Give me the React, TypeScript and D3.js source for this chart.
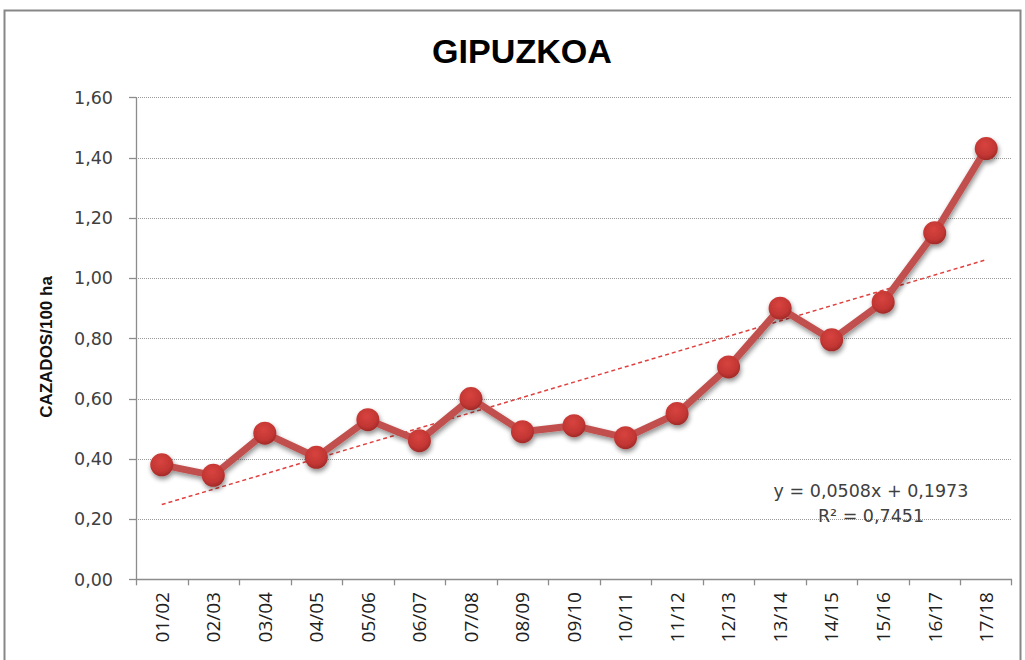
import React from "react";
import * as d3 from "d3";

const categories = ["01/02","02/03","03/04","04/05","05/06","06/07","07/08","08/09","09/10","10/11","11/12","12/13","13/14","14/15","15/16","16/17","17/18"];
const values = [0.38,0.345,0.485,0.405,0.53,0.46,0.60,0.49,0.51,0.47,0.55,0.705,0.90,0.795,0.92,1.15,1.43];
const yTicks = [0,0.2,0.4,0.6,0.8,1.0,1.2,1.4,1.6];
const trendSlope = 0.0508;
const trendIntercept = 0.1973;
const r2 = 0.7451;
const title = "GIPUZKOA";
const yTitle = "CAZADOS/100 ha";

const W = 1025, H = 660;
const M = { left: 136, right: 1012, top: 97.3, bottom: 579.3 };
const fmt = (v: number, d: number) => v.toFixed(d).replace(".", ",");

export default function App() {
  const x = d3.scaleBand<string>().domain(categories).range([M.left, M.right]).padding(0);
  const y = d3.scaleLinear().domain([0, 1.6]).range([M.bottom, M.top]);
  const cx = (c: string) => (x(c) as number) + x.bandwidth() / 2;
  const line = d3.line<number>().x((_, i) => cx(categories[i])).y(v => y(v));
  const trend = categories.map((_, i) => trendSlope * (i + 1) + trendIntercept);
  const trendLine = d3.line<number>().x((_, i) => cx(categories[i])).y(v => y(v));
  const labelFont = "'DejaVu Sans', sans-serif";
  const xFont = "'Open Sans', sans-serif";
  return (
    <svg width={W} height={H} style={{ position: "absolute", left: 0, top: 0, background: "#fff" }}>
      <defs>
        <radialGradient id="mk" cx="45%" cy="35%" r="65%">
          <stop offset="0%" stopColor="#d8433f" />
          <stop offset="70%" stopColor="#c23633" />
          <stop offset="100%" stopColor="#a12a28" />
        </radialGradient>
        <filter id="sh" x="-50%" y="-50%" width="200%" height="200%">
          <feGaussianBlur in="SourceAlpha" stdDeviation="2.5" />
          <feOffset dx="1" dy="3" result="b" />
          <feComponentTransfer><feFuncA type="linear" slope="0.45" /></feComponentTransfer>
          <feMerge><feMergeNode /><feMergeNode in="SourceGraphic" /></feMerge>
        </filter>
      </defs>
      <rect x={4.5} y={10.5} width={1016} height={700} fill="#fff" stroke="#878787" strokeWidth={2} />
      <text x={522} y={63} textAnchor="middle" fontFamily="'Liberation Sans', Arial, sans-serif" fontWeight="bold" fontSize={33} textLength={180} lengthAdjust="spacingAndGlyphs">{title}</text>
      {yTicks.filter(t => t > 0).map(t => (
        <line key={t} x1={M.left} x2={M.right} y1={Math.round(y(t)) + 0.5} y2={Math.round(y(t)) + 0.5} stroke="#9a9a9a" strokeWidth={1} strokeDasharray="1,1" />
      ))}
      <line x1={M.left + 0.5} x2={M.left + 0.5} y1={M.top} y2={M.bottom} stroke="#8c8c8c" strokeWidth={1.3} />
      <line x1={M.left} x2={M.right} y1={Math.round(M.bottom) + 0.5} y2={Math.round(M.bottom) + 0.5} stroke="#8c8c8c" strokeWidth={1.3} />
      {yTicks.map(t => (
        <g key={t}>
          <line x1={M.left - 7} x2={M.left} y1={Math.round(y(t)) + 0.5} y2={Math.round(y(t)) + 0.5} stroke="#8c8c8c" strokeWidth={1.3} />
          <text x={113} y={y(t)} dy="0.36em" textAnchor="end" fontFamily={labelFont} fontSize={17.5} fill="#404040">{fmt(t, 2)}</text>
        </g>
      ))}
      {categories.map((c, i) => (
        <line key={"t" + c} x1={Math.round(x(c) as number) + 0.5} x2={Math.round(x(c) as number) + 0.5} y1={M.bottom} y2={M.bottom + 6} stroke="#8c8c8c" strokeWidth={1.3} />
      ))}
      <line x1={M.right - 0.5} x2={M.right - 0.5} y1={M.bottom} y2={M.bottom + 6} stroke="#8c8c8c" strokeWidth={1.3} />
      {categories.map(c => (
        <text key={"l" + c} transform={`translate(${cx(c)},592) rotate(-90)`} textAnchor="end" dy="0.36em" fontFamily={xFont} fontSize={19} fill="#202020">{c}</text>
      ))}
      <text transform={`translate(52,347) rotate(-90)`} textAnchor="middle" fontFamily="'Liberation Sans', Arial, sans-serif" fontWeight="bold" fontSize={17} fill="#111">{yTitle}</text>
      <path d={trendLine(trend) || ""} fill="none" stroke="#e0413f" strokeWidth={1.5} strokeDasharray="4,3" />
      <g filter="url(#sh)">
        <path d={line(values) || ""} fill="none" stroke="#c0504d" strokeWidth={7} strokeLinejoin="round" />
        {values.map((v, i) => (
          <circle key={i} cx={cx(categories[i])} cy={y(v)} r={11.5} fill="url(#mk)" />
        ))}
      </g>
      <text x={871} y={497} textAnchor="middle" fontFamily={labelFont} fontSize={17.5} fill="#404040">{`y = ${fmt(trendSlope, 4)}x + ${fmt(trendIntercept, 4)}`}</text>
      <text x={871} y={522} textAnchor="middle" fontFamily={labelFont} fontSize={17.5} fill="#404040">{`R² = ${fmt(r2, 4)}`}</text>
    </svg>
  );
}
